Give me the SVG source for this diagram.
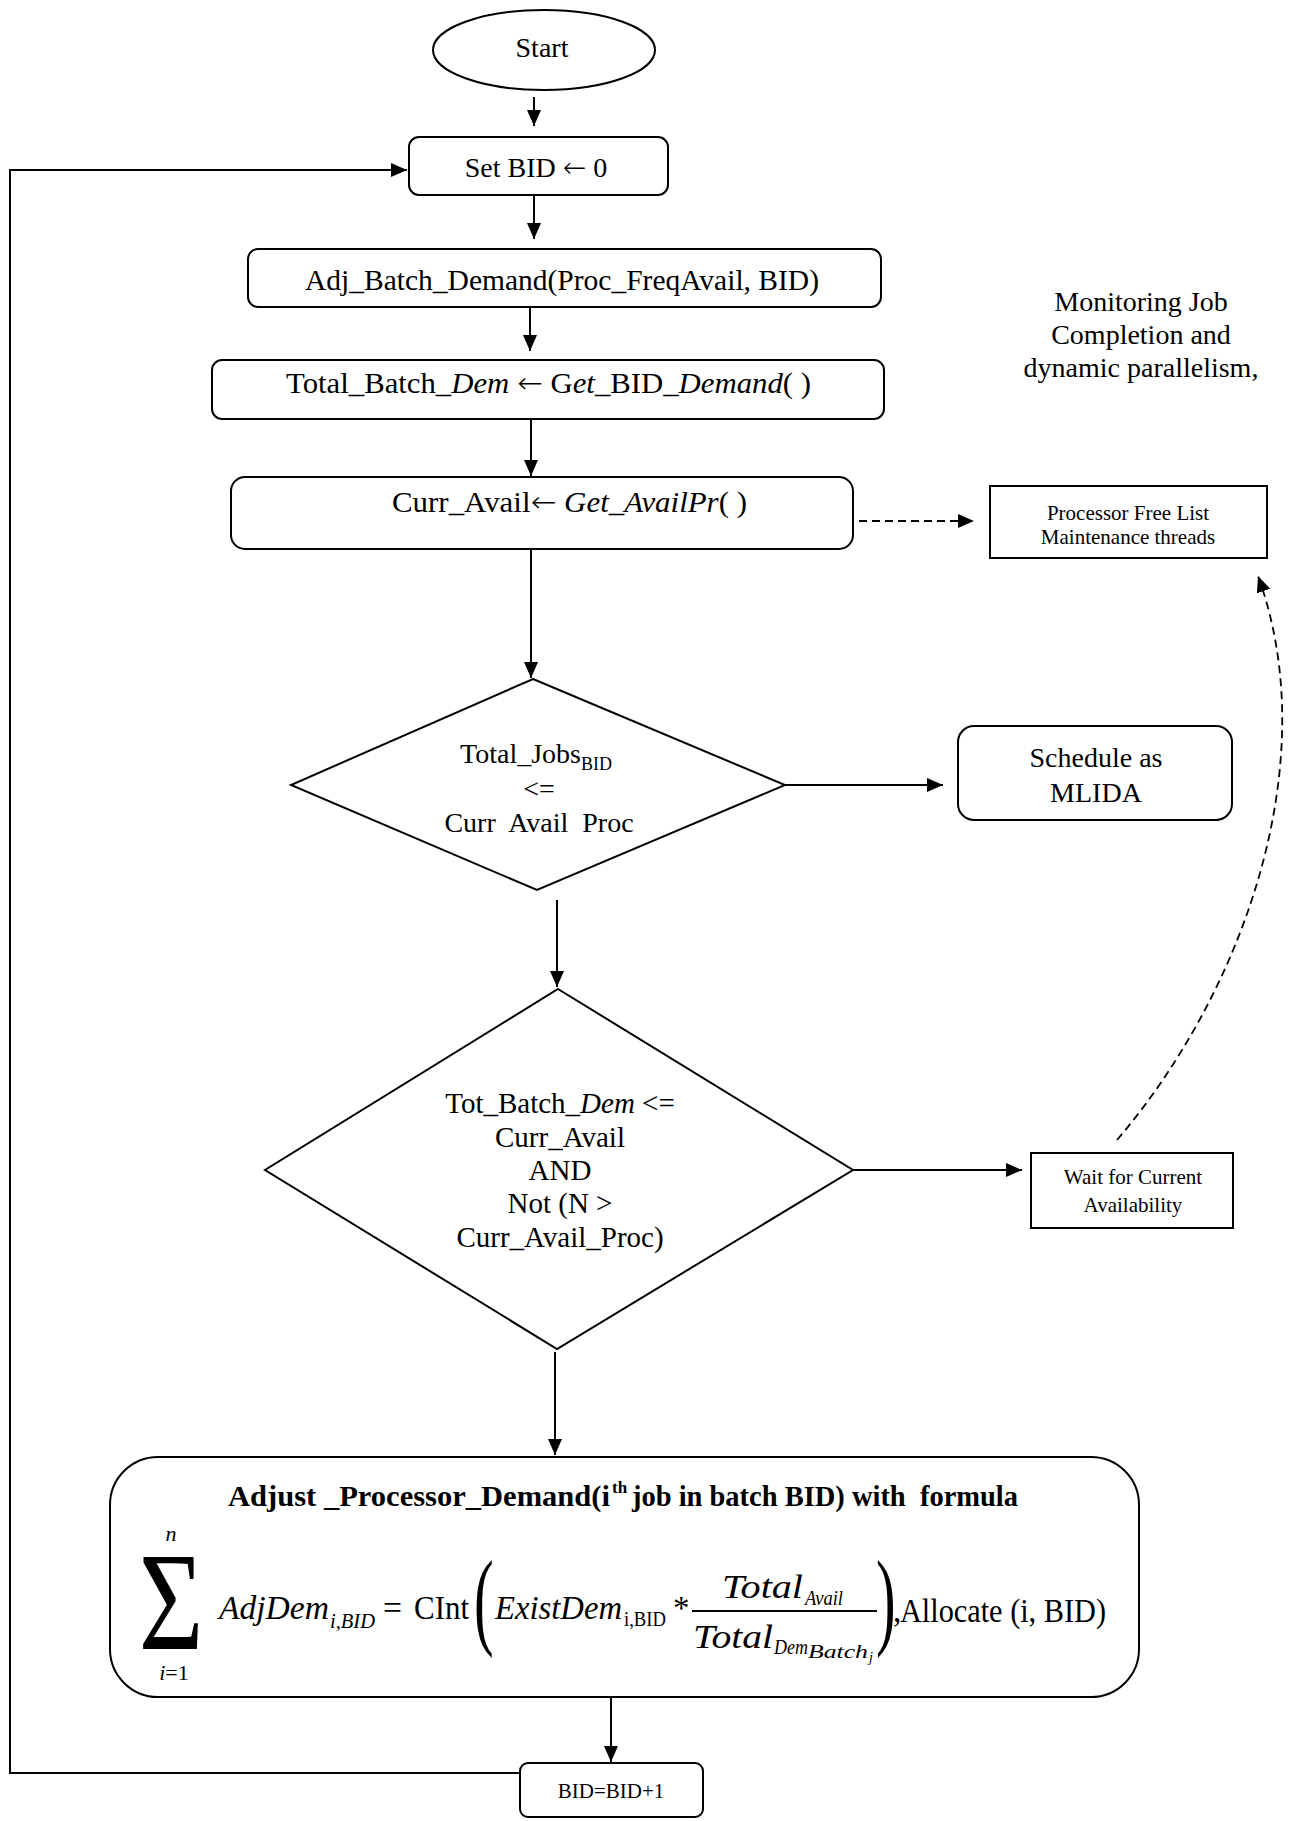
<svg xmlns="http://www.w3.org/2000/svg" width="1305" height="1821" viewBox="0 0 1305 1821">
<defs>
<style>
.n{fill:#fff;stroke:#000;stroke-width:2}
.c{fill:none;stroke:#000;stroke-width:2}
.d{fill:none;stroke:#000;stroke-width:1.8;stroke-dasharray:8 5}
text{font-family:"Liberation Serif","Times New Roman",serif;fill:#000}
.t{font-size:28px;text-anchor:middle}
.s{font-size:21px;text-anchor:middle}
.i{font-style:italic}
.m{font-size:33px}
.sub{font-size:22px}
.ar{font-family:"DejaVu Sans",sans-serif;font-style:normal;font-weight:200}
</style>
<marker id="ah" markerUnits="userSpaceOnUse" markerWidth="16" markerHeight="14" refX="16" refY="7" orient="auto">
<path d="M0,0 L16,7 L0,14 z" fill="#000"/>
</marker>
</defs>
<rect width="1305" height="1821" fill="#fff"/>

<g id="connectors">
<line class="c" x1="534" y1="97" x2="534" y2="126" marker-end="url(#ah)"/>
<line class="c" x1="534" y1="195" x2="534" y2="239" marker-end="url(#ah)"/>
<line class="c" x1="530" y1="308" x2="530" y2="351" marker-end="url(#ah)"/>
<line class="c" x1="531" y1="419" x2="531" y2="476" marker-end="url(#ah)"/>
<line class="c" x1="531" y1="549" x2="531" y2="678" marker-end="url(#ah)"/>
<line class="d" x1="859" y1="521" x2="974" y2="521" marker-end="url(#ah)"/>
<line class="c" x1="785" y1="785" x2="943" y2="785" marker-end="url(#ah)"/>
<line class="c" x1="557" y1="900" x2="557" y2="987" marker-end="url(#ah)"/>
<line class="c" x1="853" y1="1170" x2="1022" y2="1170" marker-end="url(#ah)"/>
<path class="d" d="M1117,1140 C1245,990 1325,760 1258,576" marker-end="url(#ah)"/>
<line class="c" x1="555" y1="1352" x2="555" y2="1455" marker-end="url(#ah)"/>
<line class="c" x1="611" y1="1697" x2="611" y2="1762" marker-end="url(#ah)"/>
<polyline class="c" points="520,1773 10,1773 10,170 407,170" marker-end="url(#ah)"/>
</g>

<g id="start">
<ellipse class="n" cx="544" cy="50" rx="111" ry="40"/>
<text class="t" x="542" y="57">Start</text>
</g>

<g id="setbid">
<rect class="n" x="409" y="137" width="259" height="58" rx="10"/>
<text class="t" x="536" y="177">Set BID <tspan class="ar">←</tspan> 0</text>
</g>

<g id="adjbatch">
<rect class="n" x="248" y="249" width="633" height="58" rx="10"/>
<text class="t" x="562" y="290" style="font-size:29.5px">Adj_Batch_Demand(Proc_FreqAvail, BID)</text>
</g>

<g id="totalbatch">
<rect class="n" x="212" y="360" width="672" height="59" rx="10"/>
<text x="286" y="393" font-size="29" textLength="525" lengthAdjust="spacingAndGlyphs">Total_Batch_<tspan class="i">Dem</tspan> <tspan class="ar">←</tspan> G<tspan class="i">et</tspan>_BID_<tspan class="i">Demand</tspan>( )</text>
</g>

<g id="curravail">
<rect class="n" x="231" y="477" width="622" height="72" rx="14"/>
<text x="392" y="512" font-size="29" textLength="355" lengthAdjust="spacingAndGlyphs">Curr_Avail<tspan class="ar">←</tspan> <tspan class="i">Get_AvailPr</tspan>( )</text>
</g>

<g id="monitoring">
<text class="t" x="1141" y="311">Monitoring Job</text>
<text class="t" x="1141" y="344">Completion and</text>
<text class="t" x="1141" y="377">dynamic parallelism,</text>
</g>

<g id="freelist">
<rect class="n" x="990" y="486" width="277" height="72"/>
<text class="s" x="1128" y="520">Processor Free List</text>
<text class="s" x="1128" y="544">Maintenance threads</text>
</g>

<g id="decision1">
<polygon class="n" points="533,679 785,785 537,890 291,785"/>
<text class="t" x="536" y="763">Total_Jobs<tspan font-size="18" dy="7">BID</tspan></text>
<text class="t" x="539" y="798">&lt;=</text>
<text class="t" x="539" y="832" style="white-space:pre">Curr  Avail  Proc</text>
</g>

<g id="schedule">
<rect class="n" x="958" y="726" width="274" height="94" rx="16"/>
<text class="t" x="1096" y="767">Schedule as</text>
<text class="t" x="1096" y="802">MLIDA</text>
</g>

<g id="decision2">
<polygon class="n" points="558,989 853,1170 557,1349 265,1170"/>
<text class="t" x="560" y="1113" style="font-size:29px">Tot_Batch_<tspan class="i">Dem</tspan> &lt;=</text>
<text class="t" x="560" y="1147" style="font-size:29px">Curr_Avail</text>
<text class="t" x="560" y="1180" style="font-size:29px">AND</text>
<text class="t" x="560" y="1213" style="font-size:29px">Not (N &gt;</text>
<text class="t" x="560" y="1247" style="font-size:29px">Curr_Avail_Proc)</text>
</g>

<g id="wait">
<rect class="n" x="1031" y="1153" width="202" height="75"/>
<text class="s" x="1133" y="1184">Wait for Current</text>
<text class="s" x="1133" y="1212">Availability</text>
</g>

<g id="adjust">
<rect class="n" x="110" y="1457" width="1029" height="240" rx="48"/>
<text font-size="30" font-weight="bold" x="228" y="1506" textLength="382" lengthAdjust="spacingAndGlyphs">Adjust _Processor_Demand(i</text>
<text font-size="17" font-weight="bold" x="612" y="1493">th</text>
<text font-size="30" font-weight="bold" x="632" y="1506" textLength="386" lengthAdjust="spacingAndGlyphs" style="white-space:pre">job in batch BID) with  formula</text>
<text x="171" y="1649" font-size="139" text-anchor="middle" transform="translate(171,0) scale(0.8,1) translate(-171,0)">Σ</text>
<text class="i" x="171" y="1541" font-size="22" text-anchor="middle">n</text>
<text x="174" y="1680" font-size="22" text-anchor="middle"><tspan class="i">i</tspan>=1</text>
<text class="m i" x="219" y="1619" textLength="110" lengthAdjust="spacingAndGlyphs">AdjDem</text>
<text class="sub i" x="330" y="1628" textLength="45" lengthAdjust="spacingAndGlyphs">i,BID</text>
<text class="m" x="383" y="1619" textLength="19" lengthAdjust="spacingAndGlyphs">=</text>
<text class="m" x="414" y="1619" textLength="55" lengthAdjust="spacingAndGlyphs">CInt</text>
<text font-size="107" transform="translate(474,1635) scale(0.55,1)">(</text>
<text class="m i" x="495" y="1619" textLength="127" lengthAdjust="spacingAndGlyphs">ExistDem</text>
<text class="sub" x="624" y="1626" textLength="42" lengthAdjust="spacingAndGlyphs">i,BID</text>
<text class="m" x="673" y="1619">*</text>
<line x1="692" y1="1611" x2="877" y2="1611" stroke="#000" stroke-width="2"/>
<text class="m i" x="722" y="1598" textLength="81" lengthAdjust="spacingAndGlyphs">Total</text>
<text class="sub i" x="805" y="1605" textLength="38" lengthAdjust="spacingAndGlyphs">Avail</text>
<text class="m i" x="693" y="1648" textLength="80" lengthAdjust="spacingAndGlyphs">Total</text>
<text class="sub i" x="774" y="1654" textLength="34" lengthAdjust="spacingAndGlyphs">Dem</text>
<text class="i" font-size="18" x="808" y="1658" textLength="60" lengthAdjust="spacingAndGlyphs">Batch</text>
<text class="i" font-size="14" x="869" y="1662">j</text>
<text font-size="107" transform="translate(876,1635) scale(0.55,1)">)</text>
<text class="m" x="893" y="1622">,</text>
<text class="m" x="900" y="1622" textLength="206" lengthAdjust="spacingAndGlyphs">Allocate (i, BID)</text>
</g>

<g id="increment">
<rect class="n" x="520" y="1763" width="183" height="54" rx="8"/>
<text class="s" x="611" y="1798">BID=BID+1</text>
</g>
</svg>
